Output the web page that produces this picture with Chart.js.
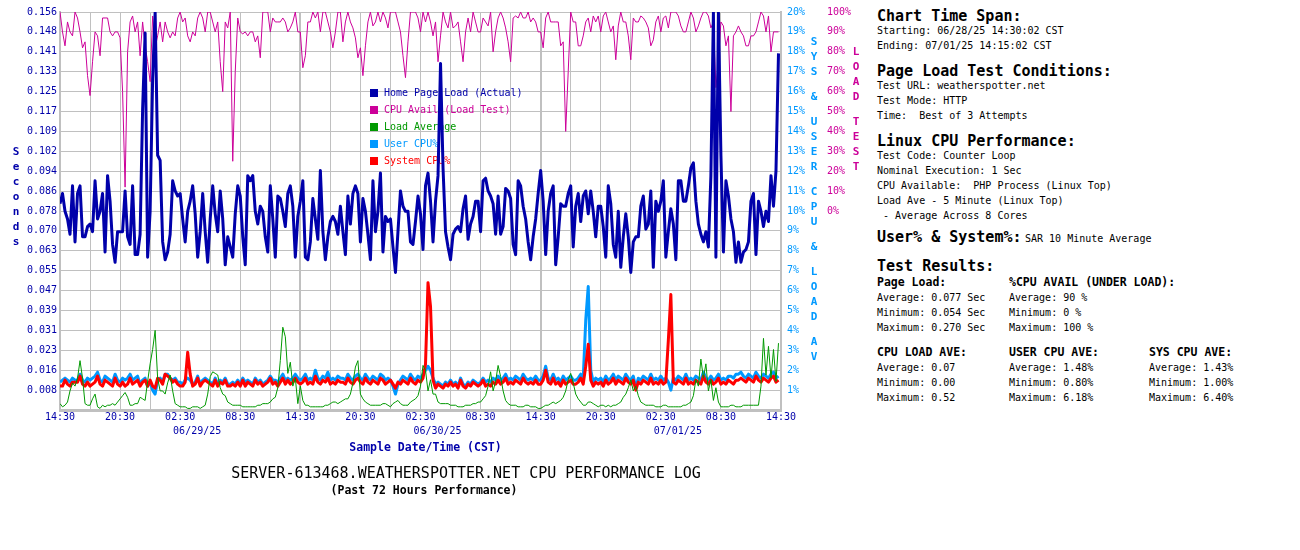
<!DOCTYPE html>
<html>
<head>
<meta charset="utf-8">
<script src="https://cdn.jsdelivr.net/npm/chart.js@4.4.1/dist/chart.umd.min.js"></script>
<style>
  html, body { margin: 0; padding: 0; background: #fff; }
  #wrap { position: relative; width: 1300px; height: 550px; overflow: hidden; }
  #cpu-log { position: absolute; left: 0; top: 0; }
  .info { position: absolute; font-family: 'DejaVu Sans Mono', monospace; font-size: 10px; line-height: 15px; color: #000; white-space: pre; }
  .info.h { font-size: 15px; font-weight: bold; }
  .info.s { font-size: 11.5px; font-weight: bold; }
</style>
</head>
<body>
<div id="wrap">
  <canvas id="cpu-log" width="870" height="500"></canvas>

  <div class="info h" style="left:877px;top:9px">Chart Time Span:</div>
  <div class="info" style="left:877px;top:23px">Starting: 06/28/25 14:30:02 CST</div>
  <div class="info" style="left:877px;top:38px">Ending: 07/01/25 14:15:02 CST</div>

  <div class="info h" style="left:877px;top:64px">Page Load Test Conditions:</div>
  <div class="info" style="left:877px;top:78px">Test URL: weatherspotter.net</div>
  <div class="info" style="left:877px;top:93px">Test Mode: HTTP</div>
  <div class="info" style="left:877px;top:108px">Time:  Best of 3 Attempts</div>

  <div class="info h" style="left:877px;top:134px">Linux CPU Performance:</div>
  <div class="info" style="left:877px;top:148px">Test Code: Counter Loop</div>
  <div class="info" style="left:877px;top:163px">Nominal Execution: 1 Sec</div>
  <div class="info" style="left:877px;top:178px">CPU Available:  PHP Process (Linux Top)</div>
  <div class="info" style="left:877px;top:193px">Load Ave - 5 Minute (Linux Top)</div>
  <div class="info" style="left:877px;top:208px"> - Average Across 8 Cores</div>

  <div class="info h" style="left:877px;top:230px">User% &amp; System%:</div>
  <div class="info" style="left:1025px;top:231px">SAR 10 Minute Average</div>

  <div class="info h" style="left:877px;top:259px">Test Results:</div>
  <div class="info s" style="left:877px;top:275px">Page Load:</div>
  <div class="info" style="left:877px;top:290px">Average: 0.077 Sec</div>
  <div class="info" style="left:877px;top:305px">Minimum: 0.054 Sec</div>
  <div class="info" style="left:877px;top:320px">Maximum: 0.270 Sec</div>
  <div class="info s" style="left:1009px;top:275px">%CPU AVAIL (UNDER LOAD):</div>
  <div class="info" style="left:1009px;top:290px">Average: 90 %</div>
  <div class="info" style="left:1009px;top:305px">Minimum: 0 %</div>
  <div class="info" style="left:1009px;top:320px">Maximum: 100 %</div>

  <div class="info s" style="left:877px;top:345px">CPU LOAD AVE:</div>
  <div class="info" style="left:877px;top:360px">Average: 0.07</div>
  <div class="info" style="left:877px;top:375px">Minimum: 0.00</div>
  <div class="info" style="left:877px;top:390px">Maximum: 0.52</div>
  <div class="info s" style="left:1009px;top:345px">USER CPU AVE:</div>
  <div class="info" style="left:1009px;top:360px">Average: 1.48%</div>
  <div class="info" style="left:1009px;top:375px">Minimum: 0.80%</div>
  <div class="info" style="left:1009px;top:390px">Maximum: 6.18%</div>
  <div class="info s" style="left:1149px;top:345px">SYS CPU AVE:</div>
  <div class="info" style="left:1149px;top:360px">Average: 1.43%</div>
  <div class="info" style="left:1149px;top:375px">Minimum: 1.00%</div>
  <div class="info" style="left:1149px;top:390px">Maximum: 6.40%</div>
</div>

<script>
const NAVY = '#0000aa', MAGENTA = '#cc0099', GREEN = '#009900', SKY = '#0099ff', RED = '#ff0000';
const GRID = '#c0c0c0';
const MONO = "'DejaVu Sans Mono', monospace";

Chart.defaults.font.family = MONO;
Chart.defaults.font.size   = 10;

const TITLE    = 'SERVER-613468.WEATHERSPOTTER.NET CPU PERFORMANCE LOG';
const SUBTITLE = '(Past 72 Hours Performance)';
const X_TITLE  = 'Sample Date/Time (CST)';

// x axis: hours since 06/28/25 14:30, one label every 6 h
const TIME_TICKS = ['14:30','20:30','02:30','08:30','14:30','20:30','02:30','08:30','14:30','20:30','02:30','08:30','14:30'];
const DATE_TICKS = [
  { hour: 12, text: '06/29/25' },
  { hour: 36, text: '06/30/25' },
  { hour: 60, text: '07/01/25' }
];
const SAMPLE_MINUTES = 15;

// page load, seconds (one sample per 15 min)
const PAGE_LOAD = [
  0.081,0.085,0.078,0.075,0.069,0.088,0.066,0.085,0.088,0.068,0.068,0.072,0.073,0.070,0.090,0.075,0.078,0.085,0.062,0.092,0.082,0.065,0.058,0.070,
  0.070,0.070,0.086,0.068,0.065,0.088,0.061,0.061,0.069,0.118,0.148,0.060,0.078,0.130,0.156,0.100,0.098,0.066,0.059,0.062,0.069,0.090,0.086,0.084,
  0.085,0.075,0.066,0.078,0.082,0.088,0.077,0.060,0.070,0.085,0.070,0.058,0.075,0.088,0.077,0.070,0.086,0.075,0.057,0.068,0.064,0.060,0.077,0.088,
  0.084,0.068,0.057,0.092,0.090,0.092,0.078,0.073,0.080,0.078,0.068,0.062,0.088,0.075,0.060,0.084,0.083,0.078,0.072,0.085,0.088,0.080,0.060,0.076,
  0.082,0.090,0.060,0.059,0.066,0.083,0.075,0.067,0.094,0.070,0.059,0.068,0.074,0.076,0.074,0.069,0.080,0.070,0.061,0.084,0.073,0.085,0.088,0.085,
  0.066,0.083,0.078,0.069,0.059,0.090,0.070,0.078,0.093,0.062,0.076,0.074,0.075,0.064,0.054,0.070,0.086,0.080,0.078,0.078,0.066,0.065,0.074,0.084,
  0.077,0.063,0.088,0.093,0.082,0.066,0.082,0.092,0.136,0.095,0.070,0.064,0.059,0.069,0.071,0.072,0.070,0.079,0.084,0.067,0.073,0.076,0.082,0.082,
  0.070,0.090,0.091,0.086,0.084,0.081,0.069,0.084,0.069,0.072,0.087,0.086,0.083,0.065,0.061,0.090,0.088,0.080,0.075,0.066,0.059,0.068,0.075,0.085,
  0.094,0.082,0.061,0.078,0.085,0.088,0.057,0.068,0.081,0.080,0.080,0.085,0.088,0.064,0.080,0.085,0.074,0.084,0.086,0.077,0.086,0.078,0.068,0.080,
  0.080,0.072,0.060,0.088,0.081,0.065,0.060,0.078,0.056,0.068,0.077,0.068,0.054,0.066,0.068,0.068,0.080,0.084,0.071,0.073,0.086,0.056,0.082,0.078,
  0.082,0.090,0.060,0.070,0.079,0.073,0.059,0.090,0.090,0.082,0.082,0.088,0.095,0.097,0.082,0.073,0.069,0.066,0.070,0.064,0.092,0.156,0.060,0.156,
  0.100,0.062,0.090,0.084,0.075,0.070,0.058,0.066,0.058,0.062,0.063,0.066,0.082,0.085,0.061,0.082,0.078,0.072,0.078,0.074,0.092,0.080,0.094,0.140
];

// CPU available under load test, %
const CPU_AVAIL = [
  100,90,83,95,90,88,100,97,90,82,85,68,58,75,90,88,78,97,97,97,90,88,90,90,
  87,60,12,80,95,98,90,95,78,95,83,75,65,98,82,88,95,85,95,90,87,90,88,97,
  100,95,97,88,85,90,88,97,100,97,90,100,100,95,90,95,75,60,95,92,100,25,70,97,
  90,89,90,88,90,90,85,88,77,100,100,100,90,97,95,95,95,97,95,90,92,95,100,90,
  90,72,78,95,95,100,97,100,90,100,100,95,90,82,90,100,100,85,95,100,95,92,87,77,
  82,68,83,95,100,93,95,100,95,100,97,92,100,100,100,95,90,78,67,85,100,100,100,97,
  90,100,95,100,95,88,95,75,88,100,95,92,100,92,93,95,85,75,90,97,90,100,95,90,
  90,97,95,93,100,80,90,97,100,97,92,85,75,97,98,97,100,97,97,100,95,97,95,90,
  90,82,97,100,95,95,95,95,83,85,40,70,100,95,95,83,83,88,95,97,90,98,95,98,
  90,98,100,95,90,93,76,93,100,95,95,88,76,97,95,95,98,97,95,92,83,86,95,98,
  90,97,98,92,100,100,100,98,93,90,90,95,100,97,90,93,97,100,100,98,92,95,62,75,
  95,93,83,88,50,88,90,93,90,88,83,83,88,88,90,95,100,98,90,98,80,90,90,90
];

// 5 minute load average (8 cores)
const LOAD_AVG = [
  0.04,0.02,0.03,0.05,0.12,0.17,0.15,0.20,0.31,0.20,0.04,0.03,0.03,0.07,0.10,0.02,0.01,0.03,0.02,0.03,0.03,0.04,0.03,0.05,
  0.07,0.09,0.11,0.08,0.03,0.03,0.04,0.04,0.08,0.07,0.06,0.18,0.29,0.38,0.50,0.20,0.12,0.12,0.10,0.17,0.22,0.12,0.04,0.03,
  0.02,0.02,0.02,0.01,0.01,0.02,0.02,0.02,0.01,0.02,0.03,0.10,0.21,0.24,0.23,0.22,0.14,0.10,0.09,0.05,0.04,0.03,0.03,0.03,
  0.03,0.02,0.02,0.02,0.02,0.02,0.02,0.03,0.03,0.04,0.04,0.04,0.05,0.07,0.08,0.14,0.31,0.52,0.46,0.23,0.30,0.15,0.20,0.04,
  0.15,0.06,0.03,0.03,0.02,0.02,0.02,0.02,0.02,0.02,0.03,0.03,0.04,0.05,0.05,0.04,0.05,0.06,0.07,0.07,0.10,0.17,0.27,0.31,
  0.10,0.07,0.05,0.04,0.03,0.03,0.03,0.03,0.03,0.04,0.04,0.03,0.02,0.04,0.05,0.06,0.04,0.03,0.03,0.03,0.05,0.06,0.07,0.09,
  0.15,0.28,0.25,0.12,0.19,0.10,0.10,0.05,0.04,0.04,0.04,0.04,0.03,0.03,0.03,0.02,0.02,0.02,0.03,0.03,0.03,0.04,0.04,0.05,
  0.05,0.07,0.09,0.15,0.24,0.12,0.18,0.28,0.21,0.12,0.06,0.04,0.03,0.03,0.03,0.02,0.02,0.02,0.03,0.03,0.02,0.02,0.02,0.01,
  0.01,0.02,0.03,0.03,0.04,0.05,0.04,0.05,0.06,0.08,0.12,0.19,0.23,0.17,0.10,0.07,0.05,0.03,0.03,0.05,0.05,0.04,0.03,0.02,
  0.03,0.03,0.02,0.03,0.02,0.03,0.03,0.04,0.05,0.08,0.10,0.14,0.19,0.12,0.15,0.09,0.05,0.04,0.03,0.03,0.03,0.03,0.02,0.02,
  0.02,0.03,0.03,0.02,0.02,0.02,0.02,0.02,0.02,0.03,0.03,0.04,0.05,0.09,0.19,0.15,0.32,0.20,0.29,0.12,0.19,0.06,0.14,0.05,
  0.02,0.02,0.02,0.02,0.03,0.03,0.02,0.02,0.02,0.03,0.03,0.03,0.03,0.03,0.03,0.03,0.15,0.45,0.22,0.40,0.20,0.38,0.18,0.42
];

// SAR user CPU, %
const USER_CPU = [
  1.4,1.5,1.6,1.5,1.4,1.6,1.5,1.5,1.8,1.5,1.4,1.6,1.5,1.6,1.7,1.9,1.5,1.4,1.7,1.6,1.5,1.4,1.8,1.5,
  1.4,1.6,1.5,1.6,1.8,1.5,1.6,1.7,1.3,1.5,1.6,1.2,1.4,1.0,0.8,1.5,1.6,1.4,1.8,1.8,1.6,1.5,1.6,1.4,
  1.4,1.3,1.5,1.6,1.5,1.3,1.4,1.7,1.3,1.5,1.6,1.5,1.4,1.3,1.6,1.3,1.5,1.4,1.6,1.3,1.3,1.4,1.3,1.5,
  1.3,1.6,1.4,1.5,1.4,1.3,1.6,1.4,1.5,1.3,1.4,1.5,1.7,1.5,1.5,1.4,1.6,1.8,1.5,1.6,1.5,1.6,1.8,1.6,
  1.5,1.6,1.8,1.5,1.6,1.5,2.0,1.6,1.5,1.7,1.6,1.9,1.5,1.6,1.5,1.7,1.6,1.6,1.5,1.8,1.6,1.5,1.7,1.8,
  1.6,1.5,1.8,1.6,1.5,1.7,1.6,1.5,1.8,1.7,1.5,1.6,1.5,1.2,0.8,1.3,1.5,1.7,1.6,1.5,1.8,1.6,1.5,1.7,
  1.6,1.8,2.0,2.2,2.0,1.6,1.3,1.4,1.3,1.2,1.4,1.3,1.5,1.3,1.4,1.2,1.6,1.3,1.2,1.4,1.3,1.5,1.4,1.3,
  1.4,1.6,1.4,1.5,1.4,1.6,1.5,1.7,1.5,1.6,1.8,1.5,1.6,1.5,1.7,1.6,1.5,1.8,1.6,1.5,1.6,1.5,1.7,1.5,
  1.5,1.7,2.2,1.6,1.5,1.8,1.5,1.6,1.4,1.7,1.5,1.6,1.7,1.5,1.5,1.6,1.8,1.6,4.5,6.2,2.0,1.4,1.6,1.5,
  1.6,1.4,1.7,1.5,1.6,1.8,1.5,1.7,1.6,1.5,1.8,1.6,1.5,1.7,1.1,1.6,1.5,1.7,1.6,1.5,1.8,1.5,1.6,1.5,
  1.7,1.5,1.6,1.4,1.0,1.6,1.5,1.7,1.6,1.5,1.8,1.5,1.6,1.5,1.7,1.6,1.5,1.9,1.6,1.5,1.7,1.5,1.6,1.8,
  1.5,1.6,1.5,1.7,1.7,1.6,1.8,1.8,1.9,1.7,1.6,1.8,1.7,1.6,1.9,1.7,1.6,1.8,1.7,1.6,1.8,1.9,1.6,1.7
];

// SAR system CPU, %
const SYS_CPU = [
  1.2,1.2,1.5,1.3,1.2,1.4,1.4,1.4,1.7,1.3,1.2,1.4,1.2,1.3,1.4,1.7,1.3,1.2,1.5,1.4,1.3,1.2,1.6,1.3,
  1.2,1.4,1.2,1.3,1.6,1.3,1.4,1.5,1.2,1.4,1.5,1.2,1.5,1.2,1.1,1.6,1.5,1.3,1.8,1.7,1.6,1.4,1.5,1.3,
  1.2,1.2,1.4,2.9,1.8,1.2,1.3,1.6,1.2,1.4,1.5,1.4,1.3,1.2,1.5,1.2,1.4,1.3,1.5,1.2,1.2,1.3,1.2,1.4,
  1.2,1.5,1.2,1.4,1.3,1.2,1.5,1.3,1.4,1.2,1.3,1.4,1.6,1.3,1.4,1.2,1.4,1.6,1.3,1.5,1.3,1.4,1.6,1.4,
  1.3,1.4,1.6,1.3,1.4,1.3,1.7,1.4,1.3,1.5,1.4,1.6,1.3,1.4,1.3,1.5,1.4,1.4,1.3,1.6,1.4,1.3,1.5,1.6,
  1.4,1.3,1.6,1.4,1.3,1.5,1.4,1.3,1.6,1.5,1.3,1.4,1.5,1.3,1.1,1.4,1.3,1.5,1.4,1.3,1.6,1.4,1.3,1.5,
  1.4,1.6,2.3,6.4,5.2,1.5,1.1,1.3,1.2,1.1,1.3,1.2,1.4,1.2,1.3,1.1,1.5,1.2,1.1,1.3,1.2,1.4,1.3,1.2,
  1.3,1.5,1.2,1.3,1.2,1.4,1.3,1.5,1.3,1.4,1.6,1.3,1.4,1.3,1.5,1.4,1.3,1.6,1.4,1.3,1.4,1.3,1.5,1.3,
  1.3,1.5,2.0,1.4,1.3,1.6,1.3,1.4,1.2,1.5,1.3,1.4,1.5,1.3,1.3,1.4,1.6,1.3,2.2,3.3,1.5,1.2,1.4,1.3,
  1.4,1.2,1.5,1.3,1.4,1.6,1.3,1.5,1.4,1.3,1.6,1.4,1.3,1.5,1.0,1.4,1.3,1.5,1.4,1.3,1.6,1.3,1.4,1.3,
  1.5,1.3,1.4,3.5,5.8,1.4,1.3,1.5,1.4,1.3,1.6,1.3,1.4,1.3,1.5,1.4,1.3,1.7,1.4,1.3,1.5,1.3,1.4,1.6,
  1.3,1.4,1.3,1.5,1.4,1.3,1.5,1.5,1.6,1.5,1.4,1.6,1.5,1.4,1.7,1.5,1.4,1.6,1.5,1.4,1.6,1.7,1.4,1.5
];

// sample times in hours from the start of the span
const SAMPLE_HOURS = PAGE_LOAD.map((_, i) => i * SAMPLE_MINUTES / 60);

const isDayLine = c => c.tick && c.tick.value % 24 === 0 && c.tick.value > 0 && c.tick.value < 72;

const line = (label, data, color, width, axis, order) => ({
  label, data, yAxisID: axis, order,
  borderColor: color, backgroundColor: color, borderWidth: width,
  borderJoinStyle: 'round', pointRadius: 0, tension: 0, fill: false
});

// letters stacked top to bottom, like the old GD axis captions
function stackText(ctx, text, x, y, color) {
  ctx.fillStyle = color;
  ctx.font = `bold 11px ${MONO}`;
  for (const ch of text) {
    if (ch === ' ') { y += 10; continue; }
    ctx.fillText(ch, x, y);
    y += 15;
  }
}

const decor = {
  id: 'decor',
  beforeDatasetsDraw(chart) {
    const { ctx, chartArea: a } = chart;
    ctx.save();
    ctx.font = `10px ${MONO}`;
    ctx.textBaseline = 'middle';
    chart.data.datasets.forEach((ds, i) => {
      const y = a.top + 81 + i * 17;
      ctx.fillStyle = ds.borderColor;
      ctx.fillRect(a.left + 310, y - 4, 8, 8);
      ctx.fillText(ds.label, a.left + 324, y);
    });
    ctx.restore();
  },
  afterDraw(chart) {
    const { ctx, chartArea: a, scales: { x } } = chart;
    ctx.save();
    ctx.textAlign = 'center';
    ctx.textBaseline = 'middle';

    ctx.fillStyle = NAVY;
    ctx.font = `10px ${MONO}`;
    DATE_TICKS.forEach(d => ctx.fillText(d.text, x.getPixelForValue(d.hour) + 17, a.bottom + 21));
    ctx.font = `bold 11.5px ${MONO}`;
    ctx.fillText(X_TITLE, (a.left + a.right) / 2 + 5, a.bottom + 38);

    stackText(ctx, 'Seconds', 16, 152, NAVY);
    stackText(ctx, 'SYS & USER CPU & LOAD AV', a.right + 33, 42, SKY);
    stackText(ctx, 'LOAD TEST', a.right + 75, 52, MAGENTA);

    ctx.fillStyle = '#000';
    ctx.font = `15px ${MONO}`;
    ctx.fillText(TITLE, 466, 474);
    ctx.font = `bold 11.5px ${MONO}`;
    ctx.fillText(SUBTITLE, 424, 491);
    ctx.restore();
  }
};

new Chart(document.getElementById('cpu-log'), {
  type: 'line',
  data: {
    labels: SAMPLE_HOURS,
    datasets: [
      line('Home Page Load (Actual)', PAGE_LOAD, NAVY, 3, 'y', 0),
      line('CPU Avail (Load Test)', CPU_AVAIL, MAGENTA, 1, 'yAvail', 4),
      line('Load Average', LOAD_AVG, GREEN, 1, 'yLoad', 1),
      line('User CPU%', USER_CPU, SKY, 3, 'yCpu', 3),
      line('System CPU%', SYS_CPU, RED, 3, 'yCpu', 2)
    ]
  },
  options: {
    responsive: false,
    animation: false,
    layout: { padding: { top: 10, left: 0, right: 0, bottom: 0 } },
    plugins: { legend: { display: false }, tooltip: { enabled: false } },
    scales: {
      x: {
        type: 'linear', min: 0, max: 72,
        ticks: {
          stepSize: 3, autoSkip: false, maxRotation: 0, padding: 1, color: NAVY,
          callback: v => (v % 6 === 0 ? TIME_TICKS[v / 6] : '')
        },
        grid: {
          color: GRID,
          lineWidth: c => (isDayLine(c) ? 2 : 1),
          drawTicks: false
        },
        border: { color: GRID, width: 3 },
        afterFit: s => { s.height = 90; }
      },
      y: {
        position: 'left', min: 0, max: 0.15625, weight: 0,
        ticks: { stepSize: 0.0078125, padding: 3, color: NAVY, callback: v => (v ? v.toFixed(3) : '') },
        grid: { color: GRID, lineWidth: 1, drawTicks: false },
        border: { color: GRID, width: 2 },
        afterFit: s => { s.width = 60; }
      },
      yCpu: {
        position: 'right', min: 0, max: 20, weight: 0,
        ticks: { stepSize: 1, padding: 6, color: SKY, callback: v => (v ? v + '%' : '') },
        grid: { display: false, drawTicks: false },
        border: { color: GRID, width: 2 },
        afterFit: s => { s.width = 40; }
      },
      yAvail: {
        position: 'right', min: -100, max: 100, weight: 1,
        ticks: { stepSize: 10, padding: 6, color: MAGENTA, callback: v => (v >= 0 ? v + '%' : '') },
        grid: { display: false, drawTicks: false },
        border: { display: false },
        afterFit: s => { s.width = 49; }
      },
      yLoad: { display: false, min: 0, max: 2.5 }
    }
  },
  plugins: [decor]
});
</script>
</body>
</html>
